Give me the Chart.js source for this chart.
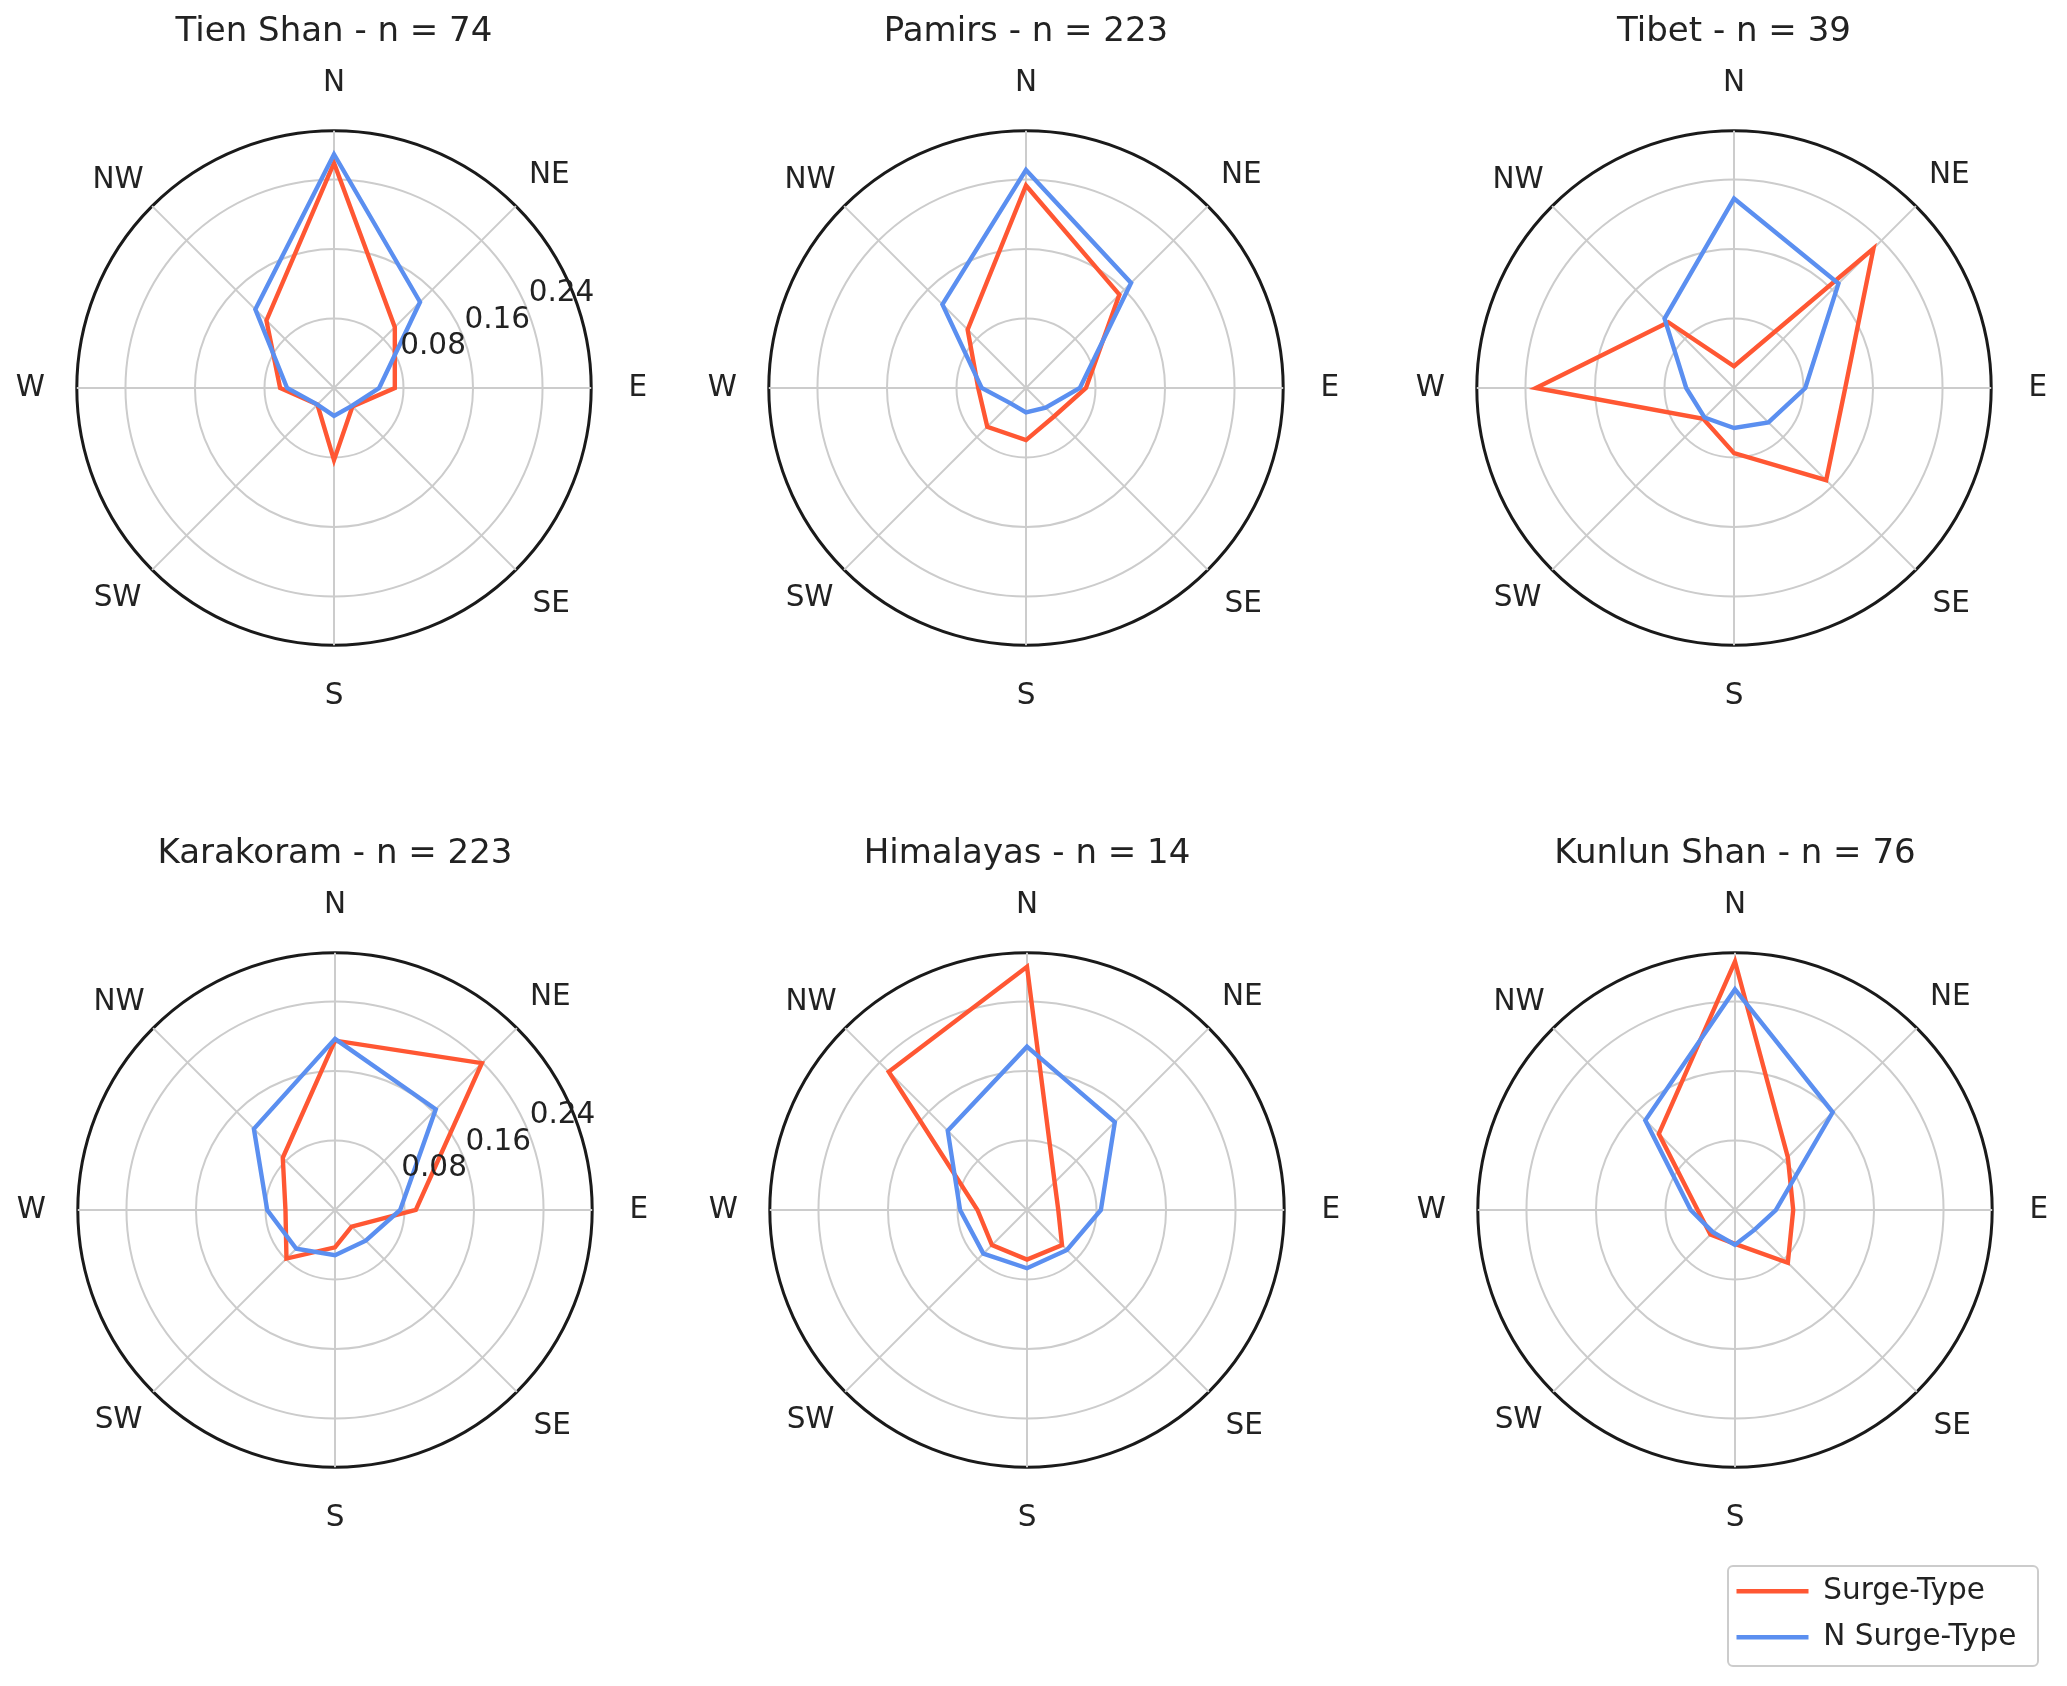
<!DOCTYPE html>
<html>
<head>
<meta charset="utf-8">
<script src="https://cdn.jsdelivr.net/npm/chart.js@4.4.1/dist/chart.umd.min.js"></script>
<style>
  html, body { margin: 0; padding: 0; background: #fff; overflow: hidden; }
  body { width: 2067px; height: 1686px; position: relative; }
  canvas { position: absolute; }
  #legendBox { position: absolute; left: 1727px; top: 1565px; width: 308px; height: 98px;
               border: 2px solid #cccccc; border-radius: 6px; }
</style>
</head>
<body>
<div id="legendBox"></div>
<canvas id="p0" width="800" height="714" style="left:-66px;top:2px"></canvas>
<canvas id="p1" width="800" height="714" style="left:626px;top:2px"></canvas>
<canvas id="p2" width="800" height="714" style="left:1334px;top:2px"></canvas>
<canvas id="p3" width="800" height="714" style="left:-65px;top:824px"></canvas>
<canvas id="p4" width="800" height="714" style="left:627px;top:824px"></canvas>
<canvas id="p5" width="800" height="714" style="left:1335px;top:824px"></canvas>
<canvas id="legend" width="330" height="300" style="left:1720px;top:1560px"></canvas>
<script>
// compass sectors, clockwise from north
const directions = ['N', 'NE', 'E', 'SE', 'S', 'SW', 'W', 'NW'];
const ringTicks = [0, 0.08, 0.16, 0.24, 0.296];
const tickLabels = [0.08, 0.16, 0.24];

const regions = ['Tien Shan', 'Pamirs', 'Tibet', 'Karakoram', 'Himalayas', 'Kunlun Shan'];
const counts = [74, 223, 39, 223, 14, 76];

const tienShanSurge = [0.259, 0.099, 0.070, 0.030, 0.083, 0.027, 0.062, 0.110];
const tienShanOther = [0.269, 0.140, 0.052, 0.029, 0.032, 0.027, 0.054, 0.128];
const pamirsSurge = [0.233, 0.152, 0.069, 0.046, 0.060, 0.063, 0.055, 0.095];
const pamirsOther = [0.251, 0.171, 0.062, 0.032, 0.028, 0.025, 0.051, 0.136];
const tibetSurge = [0.025, 0.227, 0.128, 0.150, 0.075, 0.050, 0.228, 0.107];
const tibetOther = [0.218, 0.170, 0.082, 0.056, 0.046, 0.048, 0.055, 0.113];
const karakoramSurge = [0.195, 0.239, 0.093, 0.027, 0.043, 0.079, 0.057, 0.085];
const karakoramOther = [0.197, 0.164, 0.075, 0.050, 0.052, 0.063, 0.078, 0.132];
const himalayasSurge = [0.280, 0.045, 0.036, 0.057, 0.057, 0.057, 0.057, 0.225];
const himalayasOther = [0.188, 0.143, 0.085, 0.065, 0.067, 0.071, 0.077, 0.129];
const kunlunSurge = [0.286, 0.086, 0.067, 0.086, 0.039, 0.040, 0.043, 0.124];
const kunlunOther = [0.254, 0.159, 0.047, 0.032, 0.040, 0.036, 0.051, 0.146];

const surgeSeries = [tienShanSurge, pamirsSurge, tibetSurge, karakoramSurge, himalayasSurge, kunlunSurge];
const otherSeries = [tienShanOther, pamirsOther, tibetOther, karakoramOther, himalayasOther, kunlunOther];
const showTicks = [true, false, false, true, false, false];

const RED = '#ff5733';
const BLUE = '#5b8ff0';
const FONT = 'DejaVu Sans';
const LABEL_SIZE = 29.5;
const labelPad = [29.4, 18.5, 37.3, 23.5, 33.4, 15, 32, 12];

// radial tick labels sit between NE and E like matplotlib's rlabel
const ringLabels = {
    id: 'ringLabels',
    afterDatasetsDraw(chart, args, opts) {
        if (!opts.display) return;
        const r = chart.scales.r;
        const ctx = chart.ctx;
        ctx.save();
        ctx.font = LABEL_SIZE + 'px "' + FONT + '"';
        ctx.fillStyle = '#222';
        ctx.textAlign = 'left';
        ctx.textBaseline = 'bottom';
        tickLabels.forEach(v => {
            const p = r.getPointPosition(1.5, r.getDistanceFromCenterForValue(v));
            ctx.fillText(v.toFixed(2), p.x + 2, p.y);
        });
        ctx.restore();
    }
};

const last = ringTicks.length - 1;

regions.forEach((name, i) => {
    new Chart(document.getElementById('p' + i), {
        type: 'radar',
        data: {
            labels: directions,
            datasets: [
                { label: 'Surge-Type', data: surgeSeries[i], borderColor: RED, borderWidth: 4.4,
                  fill: false, pointRadius: 0, pointHoverRadius: 0, tension: 0, order: 2 },
                { label: 'N Surge-Type', data: otherSeries[i], borderColor: BLUE, borderWidth: 4.4,
                  fill: false, pointRadius: 0, pointHoverRadius: 0, tension: 0, order: 1 }
            ]
        },
        options: {
            responsive: false,
            animation: false,
            devicePixelRatio: 1,
            events: [],
            plugins: {
                legend: { display: false },
                tooltip: { enabled: false },
                title: {
                    display: true,
                    text: name + ' - n = ' + counts[i],
                    color: '#222',
                    font: { family: FONT, size: 34, weight: 'normal' },
                    padding: { top: 10, bottom: 11.2 }
                },
                ringLabels: { display: showTicks[i] }
            },
            scales: {
                r: {
                    min: 0,
                    max: ringTicks[last],
                    startAngle: 0,
                    afterBuildTicks: s => { s.ticks = ringTicks.map(v => ({ value: v })); },
                    ticks: { display: false },
                    grid: {
                        circular: true,
                        color: c => c.index === last ? '#1a1a1a' : '#cccccc',
                        lineWidth: c => c.index === last ? 3 : 2
                    },
                    angleLines: { color: '#cccccc', lineWidth: 2 },
                    pointLabels: {
                        color: '#222',
                        font: { family: FONT, size: LABEL_SIZE },
                        padding: c => labelPad[c.index]
                    }
                }
            }
        },
        plugins: [ringLabels]
    });
});

new Chart(document.getElementById('legend'), {
    type: 'line',
    data: {
        labels: [],
        datasets: [
            { label: 'Surge-Type', data: [], borderColor: RED, backgroundColor: RED, borderWidth: 4.4,
              pointBorderColor: RED, pointBorderWidth: 4.4 },
            { label: 'N Surge-Type', data: [], borderColor: BLUE, backgroundColor: BLUE, borderWidth: 4.4,
              pointBorderColor: BLUE, pointBorderWidth: 4.4 }
        ]
    },
    options: {
        responsive: false,
        animation: false,
        devicePixelRatio: 1,
        events: [],
        scales: { x: { display: false }, y: { display: false } },
        plugins: {
            tooltip: { enabled: false },
            legend: {
                position: 'top',
                align: 'start',
                labels: {
                    usePointStyle: true,
                    pointStyle: 'line',
                    pointStyleWidth: 72,
                    color: '#222',
                    font: { family: FONT, size: LABEL_SIZE },
                    padding: 16.5
                }
            }
        }
    }
});
</script>
</body>
</html>
